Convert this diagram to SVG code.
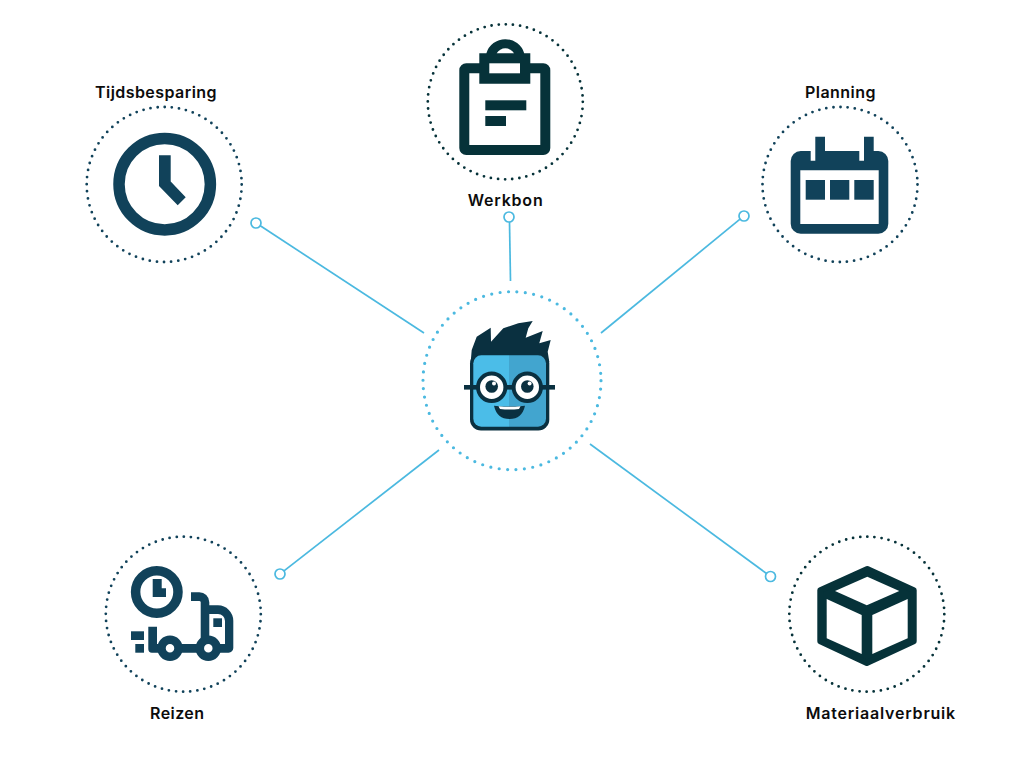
<svg xmlns="http://www.w3.org/2000/svg" width="1024" height="768" viewBox="0 0 1024 768">
<style>
.ring{fill:none;stroke-linecap:round;stroke-width:2.8;stroke-dasharray:0 7.16}
.navy{fill:#11425a}.teal{fill:#063239}
.lbl{font-family:"Inter","Noto Sans",sans-serif;font-weight:600;font-size:16px;fill:#0c0c0c}
.con line{stroke:#4bb9e0;stroke-width:1.7;fill:none}
.con circle{stroke:#4bb9e0;stroke-width:1.7;fill:#fff}
</style>
<rect width="1024" height="768" fill="#fff"/>
<g id="connectors" class="con">
<line x1="260.300" y1="225.800" x2="424" y2="333"/><circle cx="256" cy="223" r="5"/>
<line x1="509.500" y1="222" x2="510.500" y2="281"/><circle cx="509" cy="217" r="5"/>
<line x1="740" y1="219.200" x2="601" y2="333"/><circle cx="744" cy="216" r="5"/>
<line x1="284" y1="570.900" x2="439" y2="450"/><circle cx="280" cy="574" r="5"/>
<line x1="766.500" y1="573.500" x2="590" y2="444"/><circle cx="770.500" cy="576.500" r="5"/>
</g>
<g id="node-center">
<circle cx="512" cy="380.700" r="89" fill="none" stroke="#4bb9e0" stroke-width="3.200" stroke-linecap="round" stroke-dasharray="0 8.473"/>
<path d="M470.700 362L471.700 350L476.700 336.700L490.700 327.700L491 341.700L503.300 328.300L518.300 323.300L532.700 321L528.300 328.300L525.700 337.700L542.700 331L539.300 343.300L550.700 340L547.700 351.700L549.300 362Z" fill="#0a3040"/>
<rect x="470" y="352.500" width="79.300" height="78" rx="11" fill="#0a3040"/>
<path d="M509 355.300H481.300a8 8 0 0 0-8 8V418.700a8 8 0 0 0 8 8H509Z" fill="#4bbde8"/>
<path d="M509 355.300H538a8 8 0 0 1 8 8V418.700a8 8 0 0 1-8 8H509Z" fill="#42a5cf"/>
<rect x="464" y="385" width="91" height="4.600" fill="#0a3040"/>
<circle cx="491.700" cy="387.300" r="13.700" fill="#fff" stroke="#0a3040" stroke-width="4"/>
<circle cx="527.300" cy="387.300" r="13.700" fill="#fff" stroke="#0a3040" stroke-width="4"/>
<circle cx="491.700" cy="386.500" r="6.300" fill="#0a3040"/><circle cx="527.300" cy="386.500" r="6.300" fill="#0a3040"/>
<circle cx="494" cy="383.500" r="2" fill="#fff"/><circle cx="529.600" cy="383.500" r="2" fill="#fff"/>
<path d="M494 405.700Q509.500 407.500 525 405.700Q522 419 509.500 419Q497 419 494 405.700Z" fill="#0a3040"/>
<path d="M498.500 406.300Q509.500 407.300 520.500 406.300L519 409Q509.500 410 500 409Z" fill="#fff"/>
</g>
<g id="node-tijdsbesparing">
<circle class="ring" cx="164.200" cy="184.500" r="77.500" stroke="#11425a"/>
<circle cx="164.700" cy="184.200" r="45.700" fill="none" stroke="#11425a" stroke-width="11.500"/>
<path class="navy" d="M159 155.300H170.700V181.500L185.700 197.300L177.700 205.300L159 186Z"/>
<text class="lbl" x="95" y="97.500" textLength="121.500">Tijdsbesparing</text>
</g>
<g id="node-werkbon">
<circle class="ring" cx="505.300" cy="101.800" r="77.500" stroke="#063239"/>
<path class="teal" fill-rule="evenodd" d="M467.300 63.300H543.300a7 7 0 0 1 7 7V148a7 7 0 0 1-7 7H466.300a7 7 0 0 1-7-7V70.300a7 7 0 0 1 7-7ZM469.300 73.300V145H540.300V73.300Z"/>
<path class="teal" d="M479.300 53.300H486.400A19.700 19.700 0 0 1 524.200 53.300H530.300V83.700H479.300Z"/>
<rect x="489.300" y="63.300" width="30.700" height="10" fill="#fff"/>
<path d="M496.700 53.300H514A10 10 0 0 0 496.700 53.300Z" fill="#fff"/>
<rect class="teal" x="485.300" y="100.300" width="41" height="10"/>
<rect class="teal" x="485.300" y="116" width="20.700" height="10"/>
<text class="lbl" x="467.700" y="205.700" textLength="75">Werkbon</text>
</g>
<g id="node-planning">
<circle class="ring" cx="840" cy="184.500" r="77.500" stroke="#11425a"/>
<path class="navy" fill-rule="evenodd" d="M800.700 151H810.700V160.700H815.300V136.700H825V151H859.300V160.700H864V136.700H873.700V151H878.300a10 10 0 0 1 10 10V223.700a10 10 0 0 1-10 10H800.700a10 10 0 0 1-10-10V161a10 10 0 0 1 10-10ZM800.300 170.300V224H878.700V170.300Z"/>
<rect class="navy" x="805.700" y="180" width="19.300" height="19.700"/>
<rect class="navy" x="830" y="180" width="19.300" height="19.700"/>
<rect class="navy" x="854.300" y="180" width="19.400" height="19.700"/>
<text class="lbl" x="805" y="97.800" textLength="70.500">Planning</text>
</g>
<g id="node-reizen">
<circle class="ring" cx="183.300" cy="614.200" r="77.500" stroke="#11425a"/>
<circle cx="156.800" cy="592" r="21.200" fill="none" stroke="#11425a" stroke-width="9.500"/>
<path class="navy" d="M152.700 579H161.700V588.300H166V597H152.700Z"/>
<path class="navy" d="M191 592.300H199a10 10 0 0 1 10.300 10V605.300H218a15.500 15.500 0 0 1 15.300 15.500V648a4.700 4.700 0 0 1-4.700 4.700H200.700V602a1.500 1.500 0 0 0-1.500-1H191ZM209.300 614V644H225V621a7 7 0 0 0-7-7Z" fill-rule="evenodd"/>
<rect class="navy" x="213.300" y="618.300" width="8.700" height="8.700"/>
<path class="navy" d="M148.300 626.700H157V644H205V652.700H152a3.700 3.700 0 0 1-3.700-3.700Z"/>
<circle cx="170" cy="648.300" r="8.500" fill="#fff" stroke="#11425a" stroke-width="8.500"/>
<circle cx="208.300" cy="648.300" r="8.500" fill="#fff" stroke="#11425a" stroke-width="8.500"/>
<rect class="navy" x="131" y="631.300" width="13" height="8.700"/>
<rect class="navy" x="135.300" y="644" width="8.700" height="8.700"/>
<text class="lbl" x="150" y="718.800" textLength="54">Reizen</text>
</g>
<g id="node-materiaalverbruik">
<circle class="ring" cx="866.800" cy="614.200" r="77.500" stroke="#063239"/>
<path d="M867.300 569L913.700 590.300V641.300L866.800 663L820.300 641.300V590.300Z" fill="#063239" stroke="#063239" stroke-width="6" stroke-linejoin="round"/>
<path fill="#fff" d="M867.300 576.700L899.300 591L866.800 605.300L835 591Z"/>
<path fill="#fff" d="M826.700 599L861.700 615V654L826.700 638.300Z"/>
<path fill="#fff" d="M907.700 599L872.300 615V654L907.700 638.300Z"/>
<text class="lbl" x="805.700" y="718.800" textLength="149.500">Materiaalverbruik</text>
</g>
</svg>
